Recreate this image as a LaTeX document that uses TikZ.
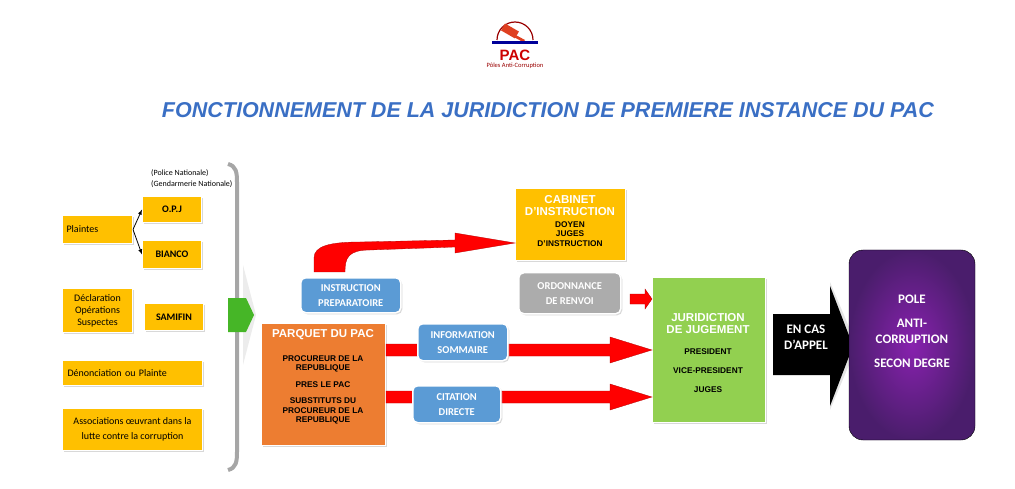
\documentclass[tikz,border=0pt]{standalone}
\usepackage{fontspec}
\setmainfont{Liberation Sans}
\newfontfamily\carl{Carlito}
\usetikzlibrary{shapes.arrows,shadows}
\definecolor{jaune}{HTML}{FFC000}
\definecolor{orng}{HTML}{ED7D31}
\definecolor{bleu}{HTML}{5B9BD5}
\definecolor{vert}{HTML}{92D050}
\definecolor{violet}{HTML}{6A2A9A}
\definecolor{titre}{HTML}{3A6FC4}
\begin{document}
\begin{tikzpicture}[x=1pt,y=-1pt,
  sh/.style={drop shadow={shadow xshift=1.5pt,shadow yshift=-1.5pt,fill=gray!60}},
  yb/.style={fill=jaune,draw=white,line width=1pt,sh,font=\carl\fontsize{10}{12}\selectfont,align=center,inner sep=1pt},
  ybb/.style={yb,font=\carl\bfseries\fontsize{10}{12}\selectfont},
  bb/.style={fill=bleu,draw=white,line width=1.5pt,rounded corners=5pt,sh,text=white,font=\carl\bfseries\fontsize{10.5}{15}\selectfont,align=center},
  wt/.style={white,font=\bfseries\fontsize{11.5}{12}\selectfont,align=center,inner sep=0},
  bt/.style={font=\bfseries\fontsize{8.3}{9.5}\selectfont,align=center,inner sep=0},
  ra/.style={fill=red,draw=red!70!black,line width=0.3pt}]
\useasboundingbox (0,0) rectangle (1015,489);
% logo
\draw[red!60!black,line width=1.2pt] (497,40) arc (180:360:18);
\fill[red!50!brown,rotate around={-30:(510,31)}] (502,27) rectangle (518,35);
\fill[red!50!brown] (512,33) -- (525,40) -- (523,42) -- (510,35) -- cycle;
\fill[blue!60!black] (492,41) rectangle (538,44);
\node[red!80!black,font=\bfseries\fontsize{15}{15}\selectfont] (pac) at (515,55) {PAC};
\node[red!60!black,font=\carl\fontsize{6.5}{6}\selectfont] (poles) at (515,66) {Pôles Anti-Corruption};
\node[titre,font=\bfseries\itshape\fontsize{21.5}{24}\selectfont] (title) at (548,110) {FONCTIONNEMENT DE LA JURIDICTION DE PREMIERE INSTANCE DU PAC};
% left column
\node[font=\carl\fontsize{8}{11}\selectfont,anchor=north west,align=left,inner sep=0] (pol) at (151,169) {(Police Nationale)\\(Gendarmerie Nationale)};
\node[yb,minimum width=70,minimum height=28,anchor=north west,align=left,text width=62] (pl) at (62,215) {Plaintes};
\node[ybb,minimum width=59,minimum height=26,anchor=north west] (opj) at (142,196) {O.P.J};
\node[ybb,minimum width=59,minimum height=28,anchor=north west] (bia) at (142,240) {BIANCO};
\draw[-latex,thick] (pl.east) -- (opj.west);
\draw[-latex,thick] (pl.east) -- (bia.west);
\node[yb,minimum width=70,minimum height=44,anchor=north west] (dec) at (62,288) {Déclaration\\Opérations\\Suspectes};
\node[ybb,minimum width=59,minimum height=27,anchor=north west] (sam) at (144,303) {SAMIFIN};
\node[yb,minimum width=140,minimum height=25,anchor=north west,align=left,text width=130] (den) at (62,360) {Dénonciation ou Plainte};
\node[yb,minimum width=140,minimum height=42,anchor=north west,font=\carl\fontsize{10}{15}\selectfont] (asso) at (62,408) {Associations œuvrant dans la\\lutte contre la corruption};
% bracket
\draw[gray!70,line width=4pt] (228,164) .. controls (236,166) and (237,172) .. (237,182) -- (237,452) .. controls (237,462) and (236,468) .. (228,470);
% green chevron
\fill[gray!15] (243,265) -- (256,315) -- (243,365) -- cycle;
\fill[vert!60!green!80!black] (228,298) -- (246,298) -- (254,315) -- (246,332) -- (228,332) -- cycle;
% parquet
\node[fill=orng,draw=white,line width=1pt,sh,minimum width=124,minimum height=122,anchor=north west,inner sep=0] (parq) at (261,323) {};
\node[wt] (parqt) at (323,335) {PARQUET DU PAC};
\node[bt] (parq2) at (323,390) {PROCUREUR DE LA\\REPUBLIQUE\\[7pt]PRES LE PAC\\[7pt]SUBSTITUTS DU\\PROCUREUR DE LA\\REPUBLIQUE};
% cabinet
\node[fill=jaune,draw=white,line width=1pt,sh,minimum width=110,minimum height=72,anchor=north west,inner sep=0] (cab) at (515,188) {};
\node[wt] (cabt) at (570,206) {CABINET\\D’INSTRUCTION};
\node[bt] (cab2) at (570,234) {DOYEN\\JUGES\\D’INSTRUCTION};
% red curved arrow
\fill[ra] (314,272) -- (314,258) .. controls (314,246) and (330,242) .. (360,242) -- (455,240) -- (455,233) -- (515,243) -- (455,253) -- (455,247) -- (370,250) .. controls (348,250) and (345,258) .. (345,272) -- cycle;
\node[bb,minimum width=100,minimum height=35,anchor=north west] (ip) at (300,277) {INSTRUCTION\\PREPARATOIRE};
\node[fill=gray!65,draw=white,line width=1.5pt,rounded corners=5pt,sh,text=white,font=\carl\bfseries\fontsize{10.5}{15}\selectfont,align=center,minimum width=102,minimum height=41,anchor=north west] (ord) at (518,272) {ORDONNANCE\\DE RENVOI};
% juridiction
\node[fill=vert,draw=white,line width=1pt,sh,minimum width=113,minimum height=145,anchor=north west,inner sep=0] (jur) at (652,277) {};
\node[wt] (jurt) at (708,324) {JURIDICTION\\DE JUGEMENT};
\node[bt,font=\bfseries\fontsize{8.3}{8}\selectfont] (jur2) at (708,371) {PRESIDENT\\[11pt]VICE-PRESIDENT\\[11pt]JUGES};
% red arrows
\fill[ra] (630,294) -- (645,294) -- (645,289) -- (652,299) -- (645,309) -- (645,304) -- (630,304) -- cycle;
\fill[ra] (386,344) -- (610,344) -- (610,337) -- (652,350) -- (610,363) -- (610,356) -- (386,356) -- cycle;
\fill[ra] (386,391) -- (610,391) -- (610,384) -- (652,397) -- (610,410) -- (610,403) -- (386,403) -- cycle;
\node[bb,minimum width=90,minimum height=37,anchor=north west] (info) at (417,323) {INFORMATION\\SOMMAIRE};
\node[bb,minimum width=88,minimum height=37,anchor=north west] (cit) at (412,385) {CITATION\\DIRECTE};
% black arrow
\fill[gray!20] (830,282) -- (857,346) -- (830,410) -- cycle;
\fill[black] (773,314) -- (830,314) -- (830,286) -- (853,346) -- (830,406) -- (830,375) -- (773,375) -- cycle;
\node[white,font=\carl\bfseries\fontsize{13}{16}\selectfont,align=center] (app) at (806,337) {EN CAS\\D’APPEL};
% purple
\shade[inner color=violet!80!magenta,outer color=violet!70!black,rounded corners=14pt,draw=black] (849,250) rectangle (975,440);
\node[white,font=\carl\bfseries\fontsize{13}{16}\selectfont,align=center] (pole) at (912,331) {POLE\\[8pt]ANTI-\\CORRUPTION\\[8pt]SECON DEGRE};
\end{tikzpicture}
\end{document}
